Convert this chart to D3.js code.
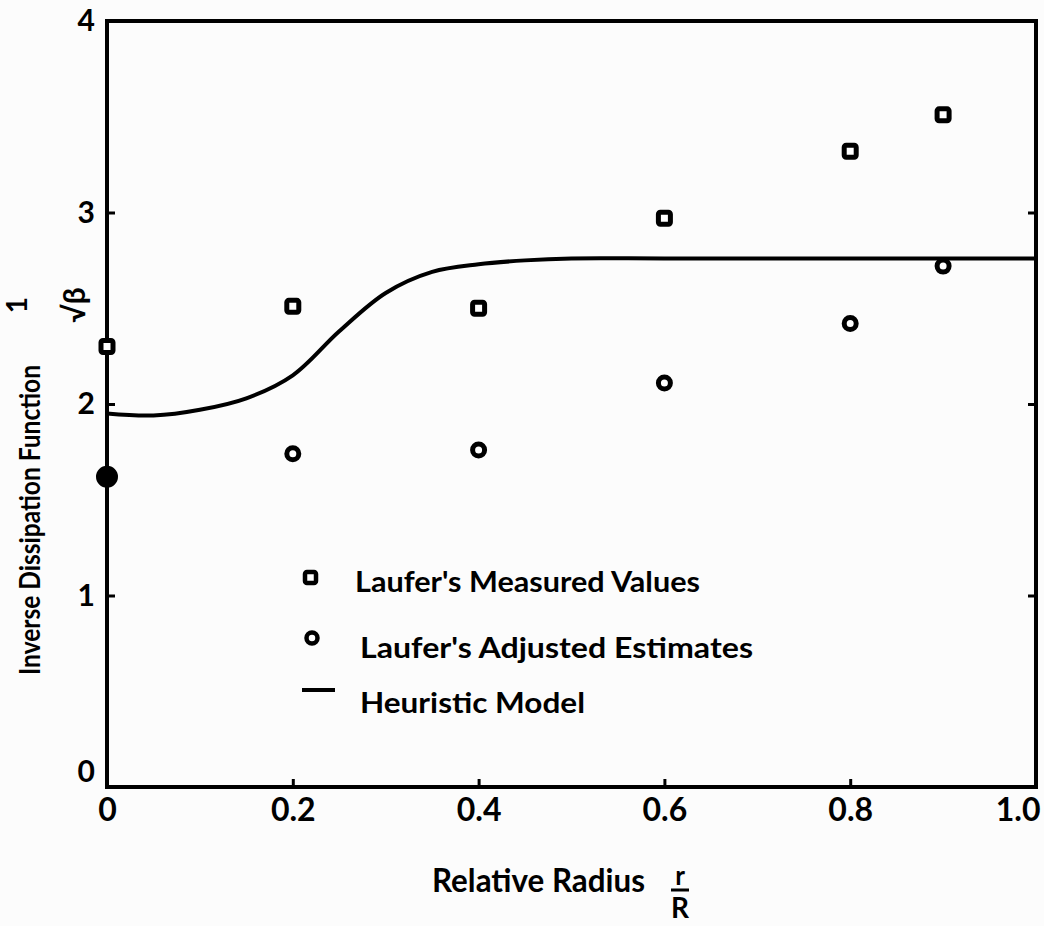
<!DOCTYPE html>
<html>
<head>
<meta charset="utf-8">
<script src="https://cdn.jsdelivr.net/npm/d3@7"></script>
<style>
  body { margin: 0; background: #fcfcfc; }
  text { font-family: Lato, "DejaVu Sans", sans-serif; font-weight: bold; fill: #000; }
</style>
</head>
<body>
<div id="chart"></div>
<script>
// data
var radius = [0, 0.2, 0.4, 0.6, 0.8, 0.9];
var measured = [2.30, 2.51, 2.50, 2.97, 3.32, 3.51];
var adjusted = [1.62, 1.74, 1.76, 2.11, 2.42, 2.72];

var modelR = [0, 0.05, 0.1, 0.15, 0.2, 0.25, 0.3, 0.35, 0.4, 0.45, 0.5, 0.6, 0.8, 1.0];
var modelV = [1.95, 1.94, 1.97, 2.03, 2.15, 2.38, 2.58, 2.69, 2.73, 2.75, 2.76, 2.76, 2.76, 2.76];

var xTicks = [0, 0.2, 0.4, 0.6, 0.8, 1.0];
var xTickLabels = ["0", "0.2", "0.4", "0.6", "0.8", "1.0"];
var yTicks = [0, 1, 2, 3, 4];

var legendLabels = ["Laufer's Measured Values", "Laufer's Adjusted Estimates", "Heuristic Model"];

var w = 1044, h = 926;
var svg = d3.select("#chart").append("svg")
    .attr("width", w)
    .attr("height", h);

var x = d3.scaleLinear().domain([0, 1]).range([107, 1036]);
var y = d3.scaleLinear().domain([0, 4]).range([787, 21]);

// axes, ticks pointing inward
var xAxis = svg.append("g")
    .attr("transform", "translate(0," + y(0) + ")")
    .call(d3.axisBottom(x).tickValues(xTicks).tickSizeInner(-8).tickSizeOuter(0)
        .tickPadding(11).tickFormat(function(d, i) { return xTickLabels[i]; }));
xAxis.select(".domain").remove();
xAxis.selectAll("line").attr("stroke", "#000").attr("stroke-width", 3);
xAxis.selectAll("text").attr("font-size", 32).attr("font-family", null);
xAxis.selectAll(".tick").filter(function(d) { return d === 1; })
    .select("text").attr("text-anchor", "end").attr("dx", 4);

var yAxis = svg.append("g")
    .attr("transform", "translate(" + x(0) + ",0)")
    .call(d3.axisLeft(y).tickValues(yTicks).tickSizeInner(-8).tickSizeOuter(0)
        .tickPadding(12).tickFormat(d3.format("d")));
yAxis.select(".domain").remove();
yAxis.selectAll("line").attr("stroke", "#000").attr("stroke-width", 3);
yAxis.selectAll("text").attr("font-size", 30).attr("font-family", null);
yAxis.selectAll(".tick").filter(function(d) { return d === 0; })
    .select("text").attr("dy", "-0.2em");

var yAxisR = svg.append("g")
    .attr("transform", "translate(" + x(1) + ",0)")
    .call(d3.axisRight(y).tickValues(yTicks).tickSizeInner(-8).tickSizeOuter(0).tickFormat(""));
yAxisR.select(".domain").remove();
yAxisR.selectAll("line").attr("stroke", "#000").attr("stroke-width", 3);

// frame
svg.append("rect")
    .attr("x", x(0)).attr("y", y(4))
    .attr("width", x(1) - x(0)).attr("height", y(0) - y(4))
    .attr("fill", "none").attr("stroke", "#000").attr("stroke-width", 4);

// heuristic model curve
var line = d3.line()
    .x(function(d, i) { return x(modelR[i]); })
    .y(function(d) { return y(d); })
    .curve(d3.curveCatmullRom.alpha(0.5));

svg.append("path")
    .datum(modelV)
    .attr("d", line)
    .attr("fill", "none")
    .attr("stroke", "#000")
    .attr("stroke-width", 4);

// measured values (squares)
svg.selectAll("rect.meas")
    .data(measured)
    .enter().append("rect")
    .attr("class", "meas")
    .attr("x", function(d, i) { return x(radius[i]) - 6; })
    .attr("y", function(d) { return y(d) - 6; })
    .attr("width", 12).attr("height", 12).attr("rx", 2)
    .attr("fill", "#fff").attr("stroke", "#000").attr("stroke-width", 5);

// adjusted estimates (circles) - the one on the axis is solid
svg.selectAll("circle.adj")
    .data(adjusted)
    .enter().append("circle")
    .attr("class", "adj")
    .attr("cx", function(d, i) { return x(radius[i]); })
    .attr("cy", function(d) { return y(d); })
    .attr("r", function(d, i) { return radius[i] === 0 ? 8.5 : 6; })
    .attr("fill", function(d, i) { return radius[i] === 0 ? "#000" : "#fff"; })
    .attr("stroke", "#000").attr("stroke-width", 5);

// legend
var lg = svg.append("g");
lg.append("rect")
    .attr("x", 305).attr("y", 572).attr("width", 11).attr("height", 11).attr("rx", 2)
    .attr("fill", "#fff").attr("stroke", "#000").attr("stroke-width", 4.5);
lg.append("circle")
    .attr("cx", 312).attr("cy", 638).attr("r", 5.5)
    .attr("fill", "#fff").attr("stroke", "#000").attr("stroke-width", 4.5);
lg.append("line")
    .attr("x1", 302).attr("x2", 335).attr("y1", 690).attr("y2", 690)
    .attr("stroke", "#000").attr("stroke-width", 4);

var legX = [355, 360, 360];
var legY = [592, 658, 713];
var legW = [345, 393, 225];
lg.selectAll("text")
    .data(legendLabels)
    .enter().append("text")
    .attr("x", function(d, i) { return legX[i]; })
    .attr("y", function(d, i) { return legY[i]; })
    .attr("font-size", 28)
    .attr("textLength", function(d, i) { return legW[i]; })
    .attr("lengthAdjust", "spacingAndGlyphs")
    .text(function(d) { return d; });

// x axis title with r/R
svg.append("text")
    .attr("x", 432).attr("y", 892)
    .attr("font-size", 33)
    .attr("textLength", 213).attr("lengthAdjust", "spacingAndGlyphs")
    .text("Relative Radius");
svg.append("text")
    .attr("x", 680).attr("y", 885).attr("text-anchor", "middle")
    .attr("font-size", 26).text("r");
svg.append("line")
    .attr("x1", 671).attr("x2", 689).attr("y1", 890).attr("y2", 890)
    .attr("stroke", "#000").attr("stroke-width", 3);
svg.append("text")
    .attr("x", 680).attr("y", 918).attr("text-anchor", "middle")
    .attr("font-size", 28).text("R");

// y axis title with 1/sqrt(beta)
svg.append("text")
    .attr("transform", "translate(40,520) rotate(-90)")
    .attr("text-anchor", "middle")
    .attr("font-size", 29)
    .attr("textLength", 310).attr("lengthAdjust", "spacingAndGlyphs")
    .text("Inverse Dissipation Function");
var frac = svg.append("g").attr("transform", "translate(45,305) rotate(-90)");
frac.append("text")
    .attr("x", 0).attr("y", -18).attr("text-anchor", "middle")
    .attr("font-size", 28).text("1");
frac.append("text")
    .attr("x", 0).attr("y", 40).attr("text-anchor", "middle")
    .attr("font-size", 30).text("\u221A\u03B2");
</script>
</body>
</html>
